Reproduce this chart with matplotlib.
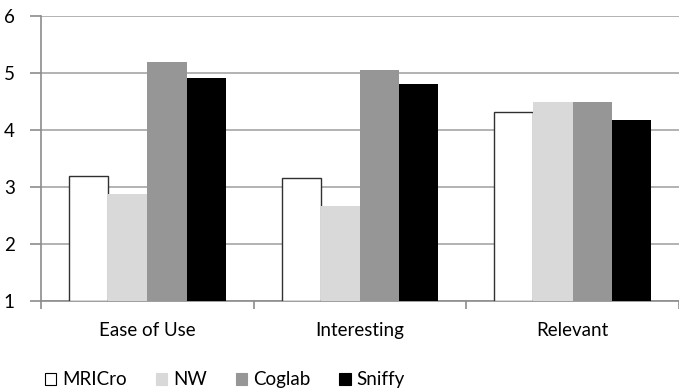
import matplotlib
matplotlib.use("Agg")
import matplotlib.pyplot as plt
import numpy as np
from matplotlib.patches import Patch

categories = ["Ease of Use", "Interesting", "Relevant"]
series = ["MRICro", "NW", "Coglab", "Sniffy"]
mricro = [3.2, 3.15, 4.31]
nw = [2.87, 2.67, 4.5]
coglab = [5.19, 5.06, 4.5]
sniffy = [4.92, 4.8, 4.18]

values = [mricro, nw, coglab, sniffy]
faces = ["white", "#d9d9d9", "#969696", "black"]
edges = ["#303030", "#d9d9d9", "#969696", "black"]

plt.rcParams['font.family'] = ['Lato', 'DejaVu Sans']

fig = plt.figure(figsize=(6.79, 3.90), dpi=100)
ax = fig.add_axes([0.0604, 0.228, 0.9396, 0.731])

x = np.arange(len(categories))
w = 0.1845
for i in range(4):
    ax.bar(x + (i - 1.5) * w, np.array(values[i]) - 1, w, bottom=1,
           color=faces[i], edgecolor=edges[i], linewidth=1 if i == 0 else 0,
           zorder=3, label=series[i])

ax.set_ylim(1, 6)
ax.set_xlim(-0.5, 2.5)
ax.set_yticks(range(1, 7))
ax.yaxis.grid(True, color="#a6a6a6", linewidth=1.2, zorder=0)
ax.set_axisbelow(True)

for s in ["top", "right"]:
    ax.spines[s].set_visible(False)
for s in ["left", "bottom"]:
    ax.spines[s].set_color("#8c8c8c")
    ax.spines[s].set_linewidth(1.2)

ax.set_xticks(x)
ax.set_xticklabels(categories)
ax.tick_params(axis="x", length=0, pad=15, labelsize=13.5)
ax.set_xticks([-0.5, 0.5, 1.5, 2.5], minor=True)
ax.tick_params(axis="x", which="minor", length=6, color="#8c8c8c", width=1.2)
ax.tick_params(axis="y", length=8, color="#8c8c8c", width=1.2, pad=11, labelsize=13.5)

handles = [Patch(facecolor=faces[i], edgecolor="black" if i == 0 else faces[i],
                 linewidth=0.8) for i in range(4)]
fig.legend(handles, series, loc="lower left", bbox_to_anchor=(0.066, 0.004),
           ncol=4, frameon=False, fontsize=13.5, handlelength=0.6, handleheight=0.6,
           handletextpad=0.32, columnspacing=1.55, borderpad=0, borderaxespad=0)

fig.savefig("out.png", dpi=100)
